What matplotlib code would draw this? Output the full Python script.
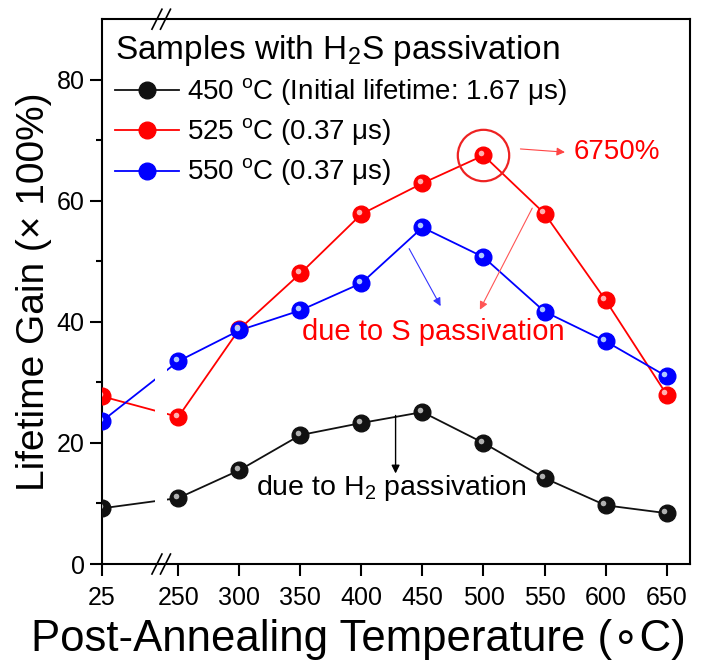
import matplotlib.pyplot as plt
from matplotlib.transforms import offset_copy
import numpy as np

plt.rcParams['font.family'] = ['Liberation Sans', 'DejaVu Sans']
plt.rcParams['mathtext.fontset'] = 'custom'
plt.rcParams['mathtext.rm'] = 'Liberation Sans'

temps = [25, 250, 300, 350, 400, 450, 500, 550, 600, 650]
gain_450 = [9.2, 10.9, 15.5, 21.3, 23.3, 25.1, 20.0, 14.2, 9.7, 8.4]
gain_525 = [27.7, 24.3, 38.8, 48.0, 57.8, 62.9, 67.5, 57.9, 43.6, 28.0]
gain_550 = [23.6, 33.5, 38.6, 41.9, 46.4, 55.6, 50.7, 41.7, 36.8, 31.0]

labels = ['450 $^{\\rm o}$C (Initial lifetime: 1.67 \u03bcs)',
          '525 $^{\\rm o}$C (0.37 \u03bcs)',
          '550 $^{\\rm o}$C (0.37 \u03bcs)']
colors = ['#111111', '#ff0000', '#0000ff']
lights = ['#b0b0b0', '#ffb0b0', '#b0c8ff']

# 25 C sits left of the axis break
x_pos = np.array([187.5] + temps[1:], dtype=float)

fig = plt.figure(figsize=(7.01, 6.62), dpi=100)
ax = fig.add_axes([0.1455, 0.148, 0.8385, 0.823])

hl = offset_copy(ax.transData, fig=fig, x=-1.6, y=1.6, units='points')
handles = []
for ys, c, lc in zip([gain_450, gain_525, gain_550], colors, lights):
    ln, = ax.plot(x_pos, ys, '-', color=c, lw=1.3, zorder=2)
    mk, = ax.plot(x_pos, ys, 'o', color=c, ms=12, mec=c, zorder=3)
    ax.plot(x_pos, ys, 'o', color=lc, ms=4, mew=0, zorder=4, transform=hl)
    handles.append((ln, mk))

# white gap in the lines at the axis break (drawn under the markers)
ax.axvspan(231, 241, color='white', zorder=2.5, lw=0)

# break marks on bottom and top spines
for yb in (0, 1):
    for xc in (0.0935, 0.108):
        ax.plot([xc - 0.0085, xc + 0.0085], [yb - 0.0183, yb + 0.0183],
                color='black', lw=1.2, transform=ax.transAxes, clip_on=False, zorder=6)

ax.set_xlim(187.5, 669)
ax.set_ylim(0, 90)
ax.set_xticks(x_pos)
ax.set_xticklabels([str(t) for t in temps])
ax.set_yticks([0, 20, 40, 60, 80])
ax.set_yticks([10, 30, 50, 70], minor=True)
ax.tick_params(axis='both', which='major', labelsize=18, length=8.5, width=1.5, direction='out')
ax.tick_params(axis='y', which='minor', length=4, width=1.5, direction='out')
ax.tick_params(axis='x', pad=7)
ax.tick_params(axis='y', pad=4)
for s in ax.spines.values():
    s.set_linewidth(1.5)

ax.set_xlabel('Post-Annealing Temperature (\u2218C)', fontsize=31.5)
ax.xaxis.set_label_coords(0.437, -0.1)
ax.set_ylabel('Lifetime Gain (\u00d7 100%)', fontsize=28, labelpad=3)

leg = ax.legend(handles, labels, loc='upper left', bbox_to_anchor=(-0.006, 1.005),
                frameon=False, title='Samples with H$_2$S passivation', title_fontsize=24,
                fontsize=20, handlelength=2.3, handletextpad=0.3,
                labelspacing=0.3, alignment='left', borderaxespad=0.2)

# highlight of the 6750% point
ax.plot(500, gain_525[6], 'o', ms=37, mfc='none', mec='#ee2222', mew=1.6, zorder=5)
ax.annotate('', xy=(569, 68.0), xytext=(528, 68.6),
            arrowprops=dict(arrowstyle='-|>', color='#ff4444', lw=0.8, mutation_scale=12))
ax.text(574, 68.0, '6750%', color='#ff0000', fontsize=20, va='center', ha='left')

ax.annotate('', xy=(496, 41.6), xytext=(541, 59.2),
            arrowprops=dict(arrowstyle='-|>', color='#ff5555', lw=0.8, mutation_scale=12))
ax.annotate('', xy=(466, 42.2), xytext=(438, 52.5),
            arrowprops=dict(arrowstyle='-|>', color='#3333ff', lw=0.8, mutation_scale=12))
ax.text(459, 38.3, 'due to S passivation', color='#ff0000', fontsize=21,
        ha='center', va='center')

ax.annotate('', xy=(428, 14.5), xytext=(428, 25.0),
            arrowprops=dict(arrowstyle='-|>', color='black', lw=1.0, mutation_scale=12))
ax.text(314, 12.5, 'due to H$_2$ passivation', color='black', fontsize=20.5,
        ha='left', va='center')

fig.savefig('out.png', dpi=100)
